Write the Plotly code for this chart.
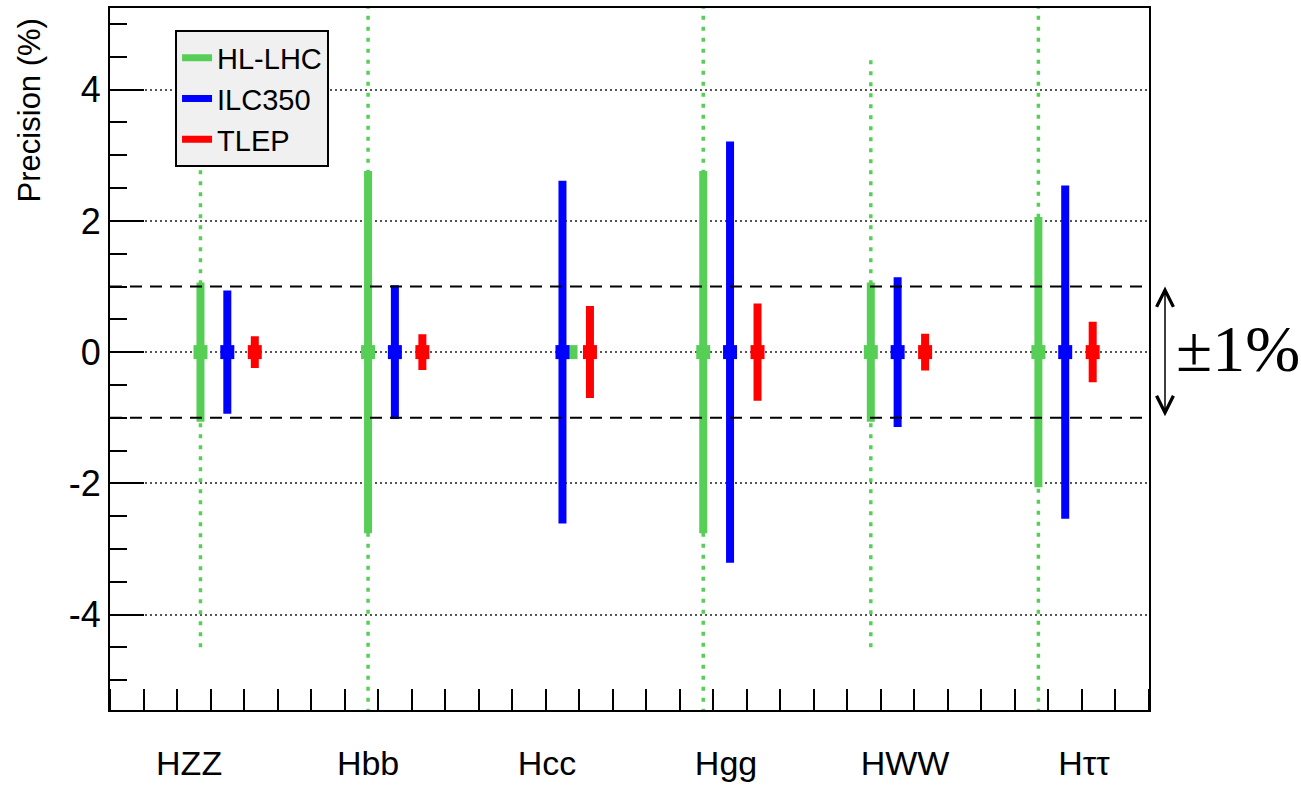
import plotly.graph_objects as go

# ---------------- data ----------------
categories = ["HZZ", "Hbb", "Hcc", "Hgg", "HWW", "Hττ"]
central = [0, 0, 0, 0, 0, 0]
hl_lhc = [1.0, 2.7, None, 2.7, 1.0, 2.0]          # solid HL-LHC bars (%)
hl_lhc_dotted = [4.5, 6.0, None, 6.0, 4.5, 6.0]   # dotted HL-LHC extent (%)
ilc350 = [0.88, 0.96, 2.55, 3.15, 1.08, 2.48]
tlep = [0.18, 0.21, 0.64, 0.68, 0.22, 0.40]
band = 1.0                                        # +-1% reference band
y_ticks = [-4, -2, 0, 2, 4]

GREEN = "#57cf57"
BLUE = "#0000ff"
RED = "#ff0000"
FONT = "Liberation Sans, Arial, sans-serif"

n = len(categories)
base = [2.7 + 5.0 * i for i in range(n)]
label_pos = [2.36 + 5.34 * i for i in range(n)]

gx = [b if v is not None else b + 1.04 for b, v in zip(base, hl_lhc)]
bx = [b + 0.8 for b in base]
rx = [b + 1.62 for b in base]

fig = go.Figure()

# dotted HL-LHC extents
dx, dy = [], []
for b, v in zip(base, hl_lhc_dotted):
    if v is None:
        continue
    dx += [b, b, None]
    dy += [-v, v, None]
fig.add_trace(go.Scatter(x=dx, y=dy, mode="lines", showlegend=False, hoverinfo="skip",
                         line=dict(color=GREEN, width=3.5, dash="4px,7px")))


def series(x, vals, color, name):
    errs = [v if v is not None else 0 for v in vals]
    fig.add_trace(go.Scatter(
        x=x, y=central, mode="markers", name=name, showlegend=False,
        marker=dict(symbol="square", size=14, color=color, line=dict(width=0)),
        error_y=dict(type="data", array=errs, visible=True, color=color,
                     thickness=8, width=4),
    ))


series(gx, hl_lhc, GREEN, "HL-LHC")
series(bx, ilc350, BLUE, "ILC350")
series(rx, tlep, RED, "TLEP")

# legend entries (line samples)
for name, color in [("HL-LHC", GREEN), ("ILC350", BLUE), ("TLEP", RED)]:
    fig.add_trace(go.Scatter(x=[None], y=[None], mode="lines", name=name,
                             line=dict(color=color, width=7)))

# +-1% dashed lines
for yv in (band, -band):
    fig.add_shape(type="line", xref="paper", x0=0, x1=1, yref="y", y0=yv, y1=yv,
                  line=dict(color="black", width=2, dash="12px,8px"), layer="above")

# double arrow and label on the right
fig.add_annotation(xref="paper", x=1.0154, yref="y", y=band, axref="pixel", ax=0,
                   ayref="y", ay=-band, text="", showarrow=True,
                   arrowside="end+start", arrowhead=5, startarrowhead=5,
                   arrowsize=2.2, startarrowsize=2.2, arrowwidth=1.5,
                   arrowcolor="black", standoff=0, startstandoff=0)
fig.add_annotation(xref="paper", x=1.0855, xanchor="center", yref="y", y=0.05,
                   yanchor="middle", text="±1%", showarrow=False,
                   font=dict(family="Liberation Serif, Times New Roman, serif",
                             size=66, color="black"))

# y-axis title (ROOT style: at top)
fig.add_annotation(xref="paper", x=-0.078, xanchor="center", yref="paper", y=0.988,
                   yanchor="top", text="Precision (%)", textangle=-90, showarrow=False,
                   font=dict(family=FONT, size=31, color="black"))

fig.update_layout(
    width=1301, height=786,
    margin=dict(l=110, r=152, t=8, b=76),
    paper_bgcolor="white", plot_bgcolor="white",
    font=dict(family=FONT, color="black"),
    showlegend=True,
    legend=dict(x=0.0626, y=0.968, xanchor="left", yanchor="top",
                bgcolor="#f0f0f0", bordercolor="black", borderwidth=2,
                font=dict(size=29, family=FONT, color="black"),
                tracegroupgap=0),
    xaxis=dict(range=[0, 31], tickmode="array", tickvals=label_pos, ticktext=categories,
               ticks="", showgrid=False, zeroline=False, automargin=False,
               showline=True, linecolor="black", linewidth=2, mirror=True,
               tickfont=dict(size=34, family=FONT, color="black"),
               ticklabelstandoff=22,
               minor=dict(ticks="inside", tick0=0, dtick=1, ticklen=21,
                          tickwidth=1.5, tickcolor="black", showgrid=False)),
    yaxis=dict(range=[-5.455, 5.245], tickmode="array", tickvals=y_ticks,
               ticktext=[str(v) for v in y_ticks], automargin=False,
               ticks="inside", ticklen=34, tickwidth=1.5, tickcolor="black",
               showgrid=True, gridcolor="#555555", gridwidth=1.5, griddash="2px,3px",
               zeroline=False,
               showline=True, linecolor="black", linewidth=2, mirror=True,
               tickfont=dict(size=36, family=FONT, color="black"),
               ticklabelstandoff=0,
               minor=dict(ticks="inside", tick0=0, dtick=0.5, ticklen=17,
                          tickwidth=1.5, tickcolor="black", showgrid=False)),
)

fig.write_html("out.html")
